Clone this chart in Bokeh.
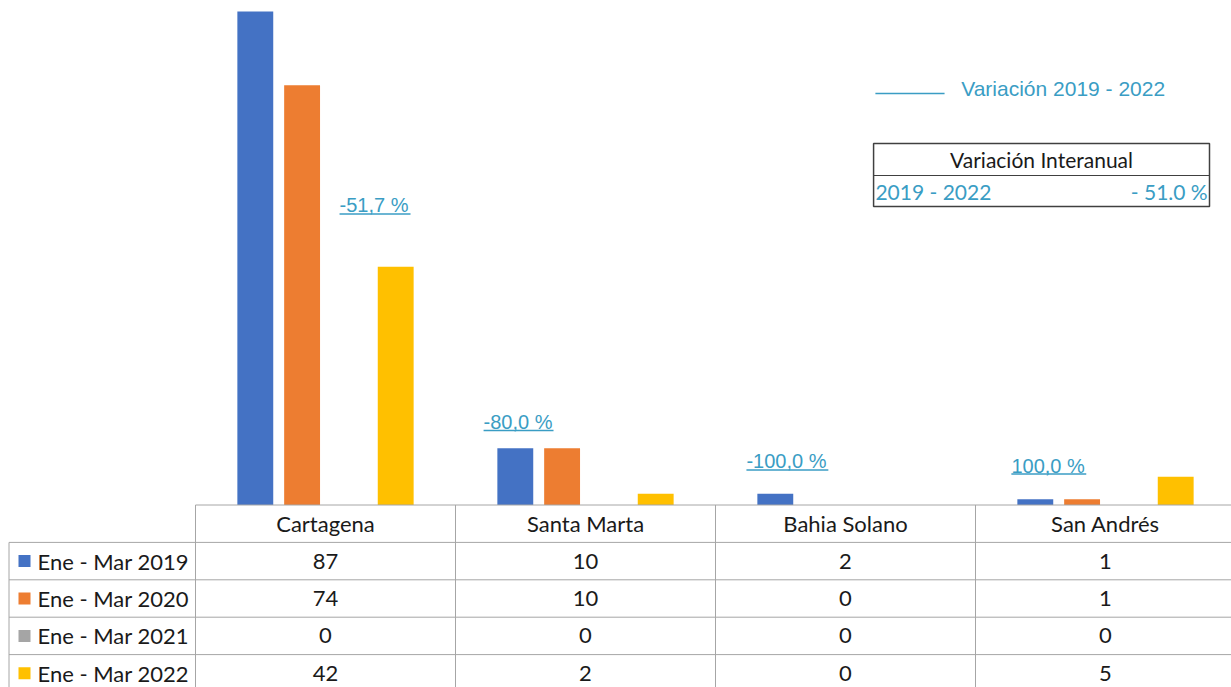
from bokeh.plotting import figure
from bokeh.models import Range1d
from bokeh.core.properties import value
from bokeh.embed import file_html
from bokeh.resources import INLINE

# ---------------- data ----------------
categories = ["Cartagena", "Santa Marta", "Bahia Solano", "San Andrés"]
series_names = ["Ene - Mar 2019", "Ene - Mar 2020", "Ene - Mar 2021", "Ene - Mar 2022"]
v2019 = [87, 10, 2, 1]
v2020 = [74, 10, 0, 1]
v2021 = [0, 0, 0, 0]
v2022 = [42, 2, 0, 5]
variation_labels = ["-51,7 %", "-80,0 %", "-100,0 %", "100,0 %"]
legend_label = "Variación 2019 - 2022"
box_title = "Variación Interanual"
box_period = "2019 - 2022"
box_value = "- 51.0 %"

series = [v2019, v2020, v2021, v2022]
colors = ["#4472C4", "#ED7D31", "#A5A5A5", "#FFC000"]
teal = "#3A9DC4"
grid_col = "#A6A6A6"

W, H = 1231, 687
px_per_cat = 260.0
x0_px = 195.0
base_px = 504.5
k = (base_px - 11.0) / 87.0  # px per unit
row_px = 37.4

x_start = -x0_px / px_per_cat
x_end = (W - x0_px) / px_per_cat
y_end = base_px / k
y_start = -(H - base_px) / k

p = figure(width=W, height=H, output_backend="svg", toolbar_location=None,
           x_range=Range1d(x_start, x_end), y_range=Range1d(y_start, y_end),
           x_axis_location=None, y_axis_location=None, min_border=0,
           outline_line_color=None)
p.grid.visible = False
p.extra_y_ranges = {"tbl": Range1d(-(H - base_px) / row_px, base_px / row_px)}

# ---------------- bars ----------------
offsets = [-0.27, -0.09, 0.09, 0.27]
for s, vals in enumerate(series):
    xs = [i + 0.5 + offsets[s] for i in range(len(categories))]
    p.vbar(x=xs, top=vals, bottom=0, width=0.138, fill_color=colors[s], line_color=None)

# ---------------- variation annotations ----------------
ann_x = [0.554, 1.108, 2.119, 3.138]
ann_y = [52.8, 14.63, 7.67, 6.96]
ann_w = [0.273, 0.269, 0.315, 0.288]
p.text(x=ann_x, y=ann_y, text=variation_labels, text_font=value("Liberation Sans"),
       text_font_size="20px", text_color=teal, text_align="left", text_baseline="middle")
p.segment(x0=ann_x, y0=[y - 1.5 for y in ann_y], x1=[a + w for a, w in zip(ann_x, ann_w)],
          y1=[y - 1.5 for y in ann_y], line_color=teal, line_width=1.5)

# ---------------- legend line ----------------
p.segment(x0=[2.615], y0=[72.55], x1=[2.881], y1=[72.55], line_color=teal, line_width=1.5)
p.text(x=[2.945], y=[73.43], text=[legend_label], text_font=value("Liberation Sans"),
       text_font_size="21px", text_color=teal, text_align="left", text_baseline="middle")

# ---------------- variation box ----------------
bx_l, bx_r = 2.608, 3.900
p.quad(left=[bx_l], right=[bx_r], top=[63.73], bottom=[52.63], fill_color=None,
       line_color="#404040", line_width=1.5)
p.segment(x0=[bx_l], y0=[58.09], x1=[bx_r], y1=[58.09], line_color="#404040", line_width=1.2)
p.text(x=[3.254], y=[60.9], text=[box_title], text_font=value("Lato"), text_font_size="21px",
       text_color="#1a1a1a", text_align="center", text_baseline="middle")
p.text(x=[2.615], y=[55.3], text=[box_period], text_font=value("Lato"), text_font_size="21px",
       text_color=teal, text_align="left", text_baseline="middle")
p.text(x=[3.893], y=[55.3], text=[box_value], text_font=value("Lato"), text_font_size="21px",
       text_color=teal, text_align="right", text_baseline="middle")

# ---------------- data table ----------------
left_edge = x_start + 8.5 / px_per_cat
tb_bottom = -(H - base_px) / row_px
p.segment(x0=[0], y0=[0], x1=[x_end], y1=[0], line_color=grid_col, line_width=1, y_range_name="tbl")
p.segment(x0=[left_edge] * 4, y0=[-1, -2, -3, -4], x1=[x_end] * 4, y1=[-1, -2, -3, -4],
          line_color=grid_col, line_width=1, y_range_name="tbl")
p.segment(x0=[0, 1, 2, 3], y0=[0] * 4, x1=[0, 1, 2, 3], y1=[tb_bottom] * 4,
          line_color=grid_col, line_width=1, y_range_name="tbl")
p.segment(x0=[left_edge], y0=[-1], x1=[left_edge], y1=[tb_bottom],
          line_color=grid_col, line_width=1, y_range_name="tbl")

cat_x = [i + 0.5 for i in range(len(categories))]
p.text(x=cat_x, y=[-0.5] * 4, text=categories, text_font=value("Lato"), text_font_size="22px",
       text_color="#1a1a1a", text_align="center", text_baseline="middle", y_range_name="tbl")

for s, vals in enumerate(series):
    ty = -1.5 - s
    p.text(x=cat_x, y=[ty] * 4, text=[str(v) for v in vals], text_font=value("Lato"),
           text_font_size="22px", text_color="#1a1a1a", text_align="center",
           text_baseline="middle", y_range_name="tbl")
    p.scatter(x=[(24 - x0_px) / px_per_cat], y=[ty], marker="square", size=12,
              fill_color=colors[s], line_color=None, y_range_name="tbl")
    p.text(x=[(37 - x0_px) / px_per_cat], y=[ty], text=[series_names[s]], text_font=value("Lato"),
           text_font_size="22px", text_color="#1a1a1a", text_align="left",
           text_baseline="middle", y_range_name="tbl")

open("out.html", "w").write(file_html(p, INLINE))
